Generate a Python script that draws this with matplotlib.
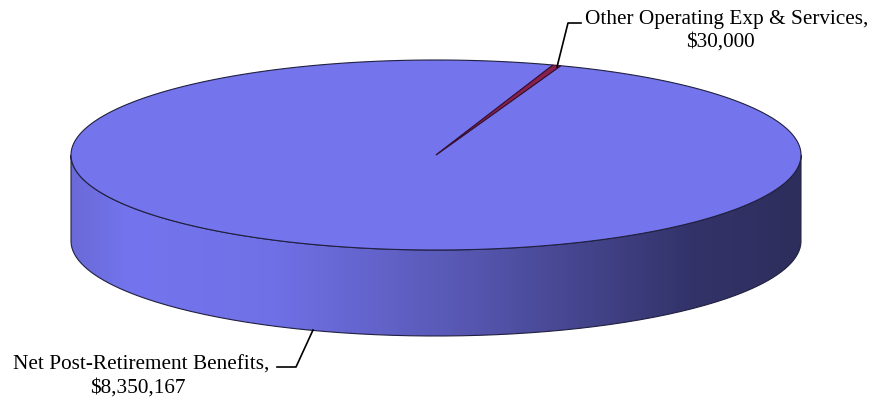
import numpy as np
import matplotlib.pyplot as plt
from matplotlib.patches import Polygon, PathPatch
from matplotlib.path import Path
from matplotlib.colors import LinearSegmentedColormap

# data
labels = ["Net Post-Retirement Benefits", "Other Operating Exp & Services"]
values = [8350167, 30000]
value_labels = ["$8,350,167", "$30,000"]
top_colors = ["#7474ec", "#8a2050"]

# geometry (pixels)
cx, cy = 436, 155
rx, ry = 365, 95
depth = 86
start_deg = 71.3  # where the small slice begins (param angle, going clockwise)

fig = plt.figure(figsize=(8.73, 3.99), dpi=100)
ax = fig.add_axes([0, 0, 1, 1])
ax.set_xlim(0, 873)
ax.set_ylim(399, 0)
ax.axis("off")


def ell(t, dy=0):
    return np.column_stack([cx + rx * np.cos(t), cy - ry * np.sin(t) + dy])


# side wall (front half) with horizontal gradient
t_front = np.linspace(np.pi, 2 * np.pi, 200)
upper = ell(t_front)
lower = ell(t_front[::-1], depth)
side_pts = np.vstack([upper, lower, upper[:1]])
side_patch = PathPatch(Path(side_pts), facecolor="none", edgecolor="#202040", lw=0.8, zorder=3)
ax.add_patch(side_patch)

cmap = LinearSegmentedColormap.from_list(
    "side", [(0, "#6a6ad8"), (0.08, "#7474ee"), (0.28, "#7070e6"),
             (0.55, "#5656b0"), (0.85, "#33336a"), (1.0, "#2e2e5c")])
grad = np.linspace(0, 1, 256).reshape(1, -1)
im = ax.imshow(grad, cmap=cmap, extent=[cx - rx, cx + rx, cy + ry + depth + 2, cy - 2],
               aspect="auto", zorder=2)
im.set_clip_path(side_patch)

# top wedges
total = sum(values)
angle = np.deg2rad(start_deg)
for i in [1, 0]:
    span = 2 * np.pi * values[i] / total
    t = np.linspace(angle, angle - span, max(int(span / 0.01), 4))
    pts = np.vstack([[cx, cy], ell(t)])
    ec = "#202040" if i == 0 else "#3a1030"
    ax.add_patch(Polygon(pts, closed=True, facecolor=top_colors[i], edgecolor=ec,
                         lw=0.8, zorder=4 if i == 0 else 5))
    angle -= span

# leader lines and labels
font = dict(fontsize=15.3, family="Liberation Serif", ha="center", va="baseline")

ax.plot([557, 568, 581], [67, 23, 23], color="black", lw=1.2, zorder=6)
ax.text(727, 24, labels[1] + ",", **font)
ax.text(720, 47, value_labels[1], **font)

ax.plot([313, 296, 277], [330, 367, 367], color="black", lw=1.2, zorder=6)
ax.text(141.5, 370, labels[0] + ",", **font)
ax.text(137.5, 393, value_labels[0], **font)

fig.savefig("out.png", dpi=100)
